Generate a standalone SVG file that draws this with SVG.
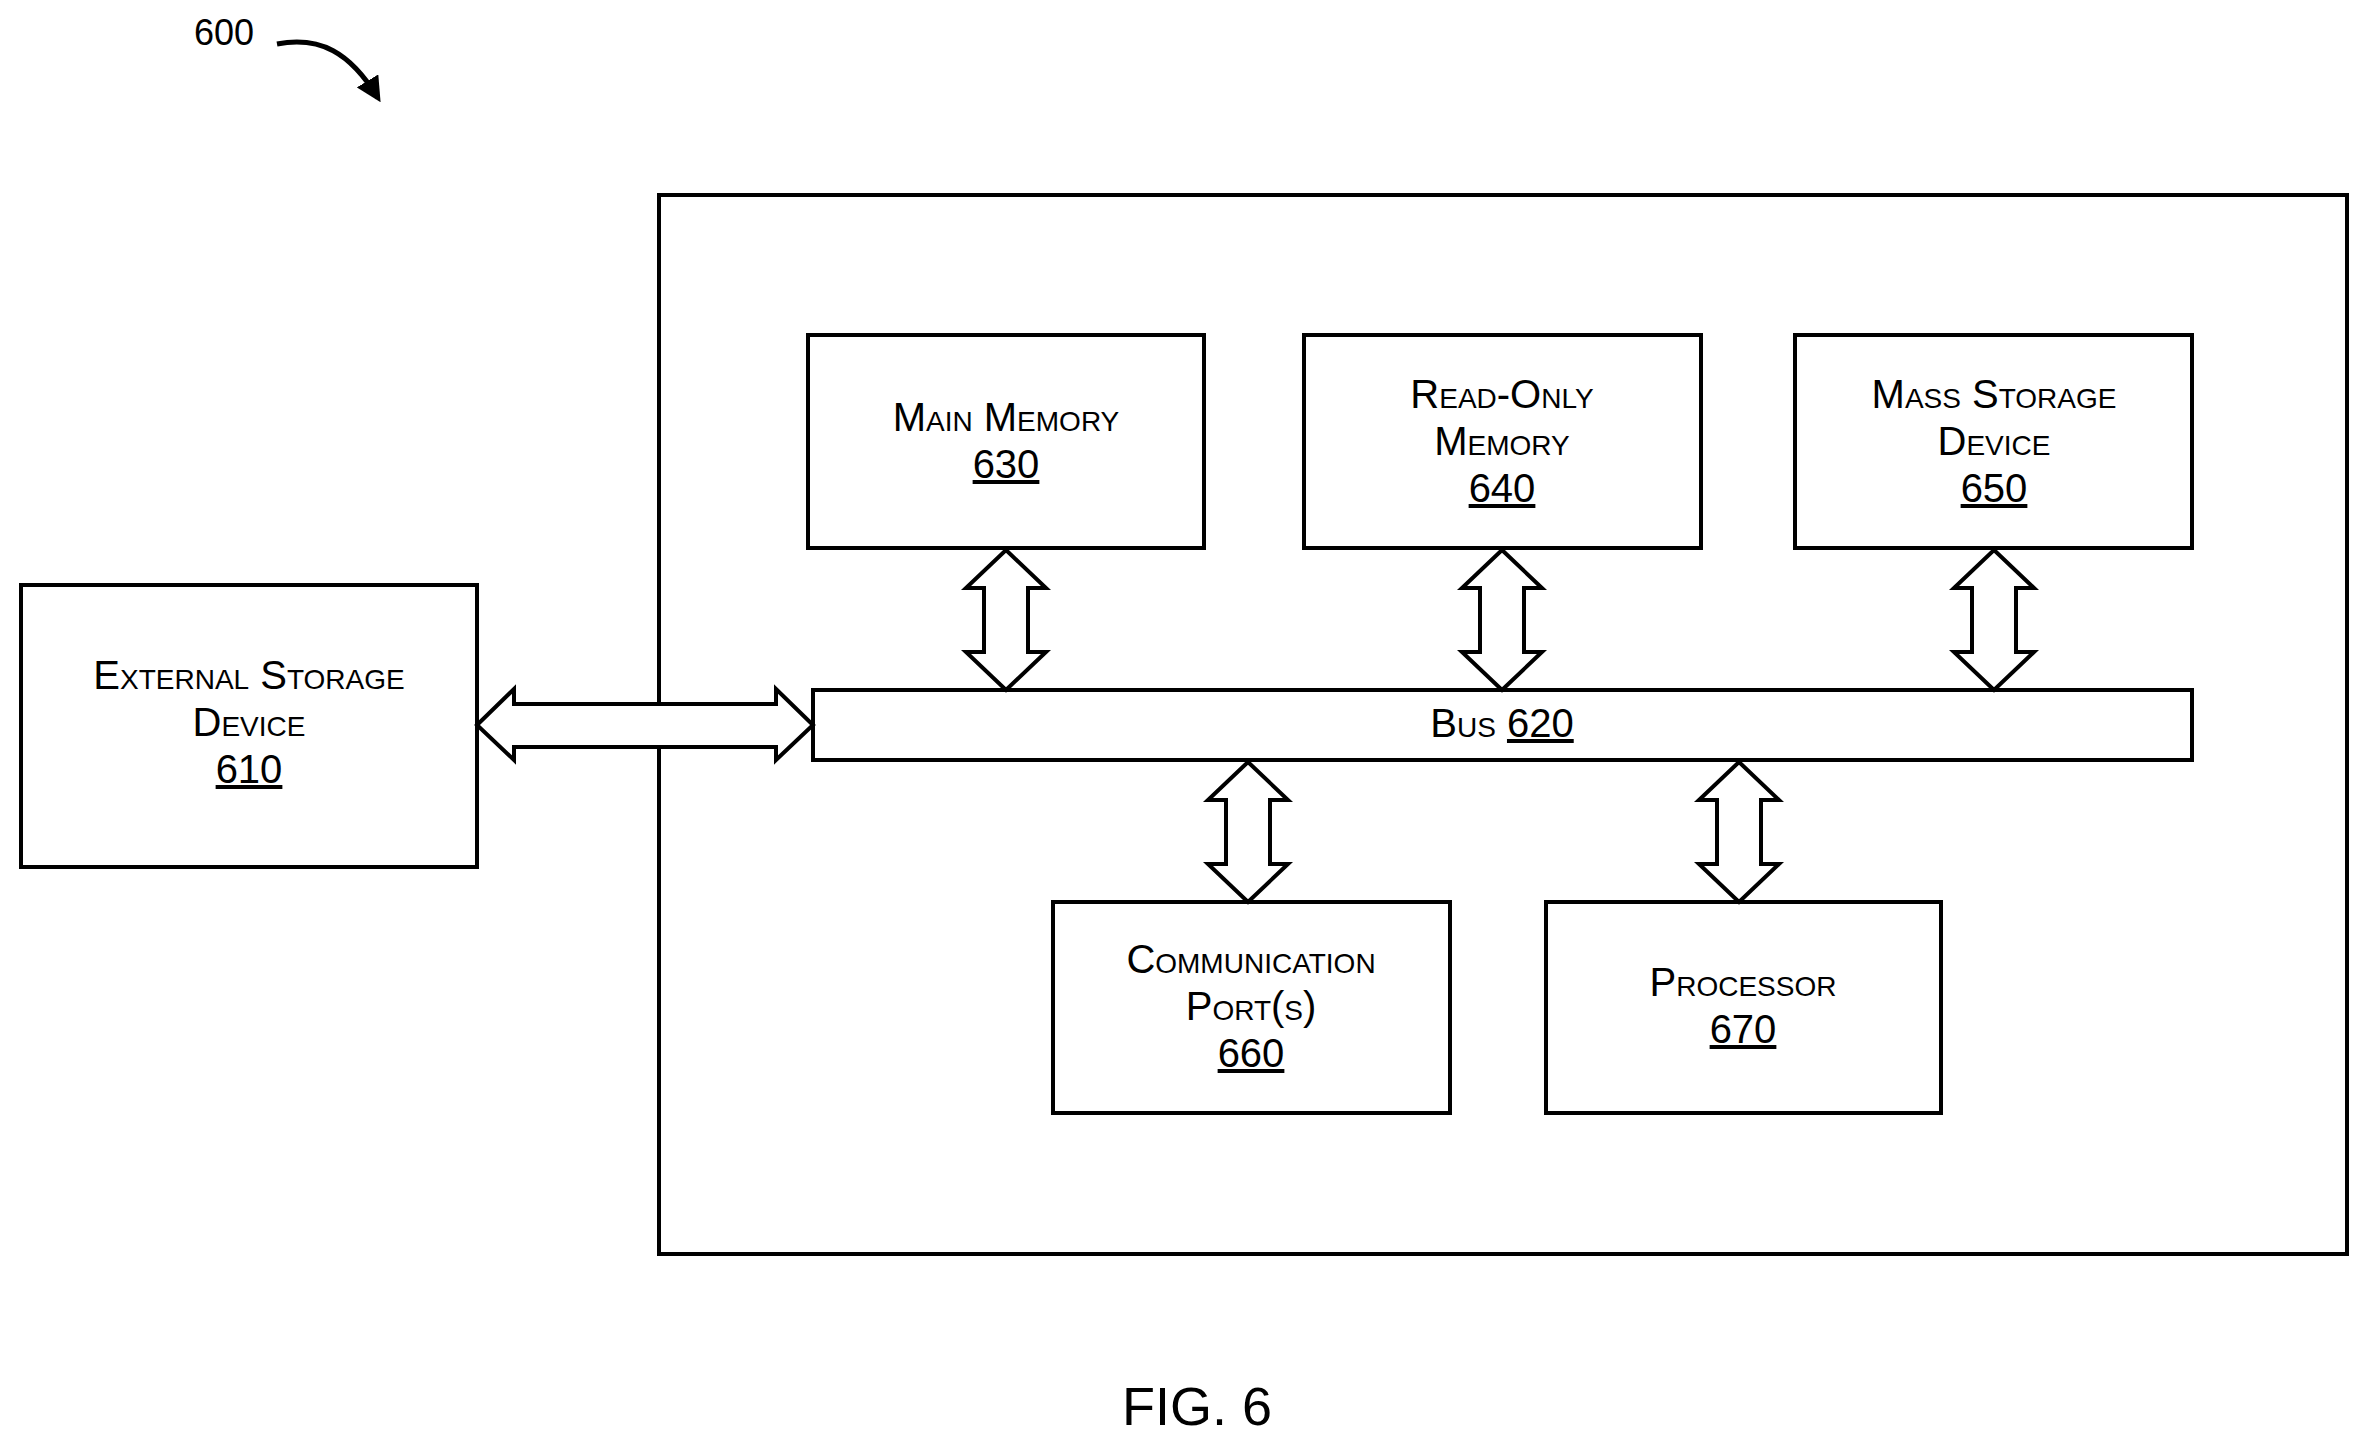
<svg xmlns="http://www.w3.org/2000/svg" width="2369" height="1444" viewBox="0 0 2369 1444">
<style>
.b{fill:#fff;stroke:#000;stroke-width:4}
.t{font-family:"Liberation Sans",Arial,sans-serif;font-size:40px;font-variant:small-caps;text-anchor:middle;fill:#000}
.u{text-decoration:underline}
.a{fill:#fff;stroke:#000;stroke-width:4;stroke-linejoin:miter}
</style>
<defs>
<marker id="h" viewBox="0 0 10 10" refX="8" refY="5" markerWidth="5" markerHeight="5" orient="auto"><path d="M0,0 L10,5 L0,10 z" fill="#000"/></marker>
<path id="va" d="M0,0 L40,38 L22,38 L22,102 L40,102 L0,140 L-40,102 L-22,102 L-22,38 L-40,38 Z"/>
</defs>
<rect width="2369" height="1444" fill="#fff"/>
<text x="224" y="45" style="font-family:'Liberation Sans',Arial,sans-serif;font-size:36px" text-anchor="middle">600</text>
<path d="M277,44 C320,36 350,52 378,98" fill="none" stroke="#000" stroke-width="5" marker-end="url(#h)"/>
<g id="system"><rect class="b" x="659" y="195" width="1688" height="1059"/></g>
<g id="n610"><rect class="b" x="21" y="585" width="456" height="282"/>
<text class="t" x="249" y="689">External Storage</text><text class="t" x="249" y="736">Device</text><text class="t u" x="249" y="783">610</text></g>
<g id="n630"><rect class="b" x="808" y="335" width="396" height="213"/>
<text class="t" x="1006" y="431">Main Memory</text><text class="t u" x="1006" y="478">630</text></g>
<g id="n640"><rect class="b" x="1304" y="335" width="397" height="213"/>
<text class="t" x="1502" y="408">Read-Only</text><text class="t" x="1502" y="455">Memory</text><text class="t u" x="1502" y="502">640</text></g>
<g id="n650"><rect class="b" x="1795" y="335" width="397" height="213"/>
<text class="t" x="1994" y="408">Mass Storage</text><text class="t" x="1994" y="455">Device</text><text class="t u" x="1994" y="502">650</text></g>
<g id="n620"><rect class="b" x="813" y="690" width="1379" height="70"/>
<text class="t" x="1502" y="737">Bus <tspan class="u">620</tspan></text></g>
<g id="n660"><rect class="b" x="1053" y="902" width="397" height="211"/>
<text class="t" x="1251" y="973">Communication</text><text class="t" x="1251" y="1020">Port(s)</text><text class="t u" x="1251" y="1067">660</text></g>
<g id="n670"><rect class="b" x="1546" y="902" width="395" height="211"/>
<text class="t" x="1743" y="996">Processor</text><text class="t u" x="1743" y="1043">670</text></g>
<g id="connectors">
<path class="a" d="M477,725 L514,689 L514,704 L776,704 L776,689 L813,725 L776,760 L776,747 L514,747 L514,760 Z"/>
<use class="a" href="#va" x="1006" y="550"/>
<use class="a" href="#va" x="1502" y="550"/>
<use class="a" href="#va" x="1994" y="550"/>
<use class="a" href="#va" x="1248" y="762"/>
<use class="a" href="#va" x="1739" y="762"/>
</g>
<text x="1197" y="1425" style="font-family:'Liberation Sans',Arial,sans-serif;font-size:54px" text-anchor="middle">FIG. 6</text>
</svg>
